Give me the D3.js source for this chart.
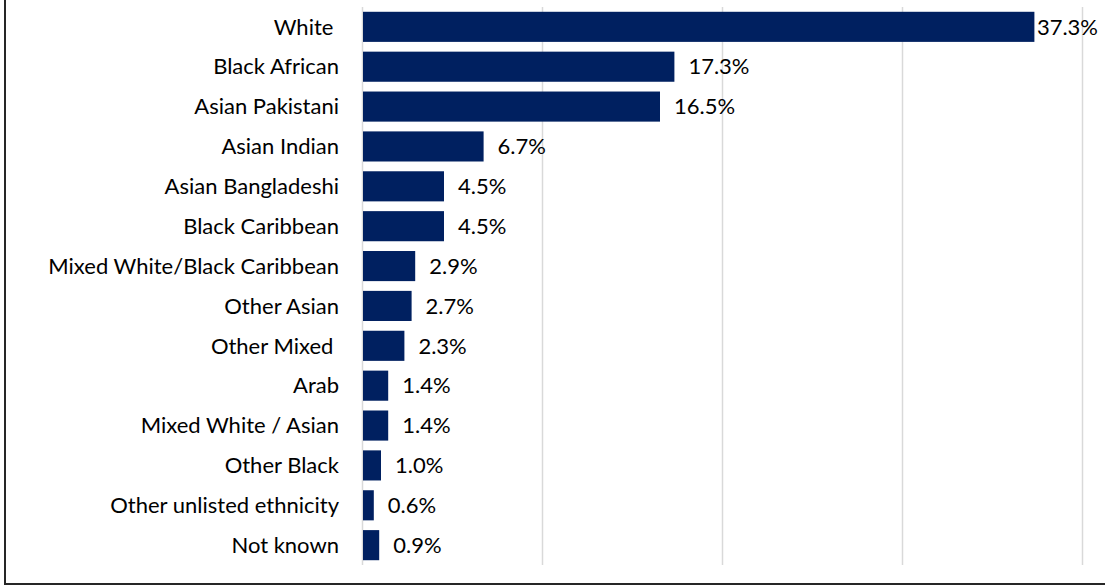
<!DOCTYPE html>
<html>
<head>
<meta charset="utf-8">
<script src="https://cdn.jsdelivr.net/npm/d3@7"></script>
<style>
  html, body { margin: 0; padding: 0; background: #fff; }
  svg { display: block; }
  text { font-family: "Lato", "Open Sans", sans-serif; fill: #000; }
</style>
</head>
<body>
<svg id="chart" width="1105" height="585"></svg>
<script>
// Ethnicity breakdown (percent)
const categories = [
  "White ", "Black African", "Asian Pakistani", "Asian Indian", "Asian Bangladeshi",
  "Black Caribbean", "Mixed White/Black Caribbean", "Other Asian", "Other Mixed ",
  "Arab", "Mixed White / Asian", "Other Black", "Other unlisted ethnicity", "Not known"
];
const values = [37.3, 17.3, 16.5, 6.7, 4.5, 4.5, 2.9, 2.7, 2.3, 1.4, 1.4, 1.0, 0.6, 0.9];
const gridTicks = [0, 10, 20, 30, 40];

const W = 1105, H = 585;
const margin = { top: 7, right: 22, bottom: 20, left: 363 };
const fontSize = "22px";
const svg = d3.select("#chart");

// outer frame
svg.append("rect")
  .attr("x", 5).attr("y", -5)
  .attr("width", W + 10).attr("height", 589)
  .attr("fill", "none").attr("stroke", "#262626").attr("stroke-width", 2);

const x = d3.scaleLinear().domain([0, 40]).range([margin.left, 1083]);
const y = d3.scaleBand().domain(categories)
  .range([margin.top, 565]).paddingInner(0.245).paddingOuter(0.12);

// vertical gridlines
svg.append("g").selectAll("line").data(gridTicks).join("line")
  .attr("x1", d => x(d) - 0.5).attr("x2", d => x(d) - 0.5)
  .attr("y1", margin.top).attr("y2", 565)
  .attr("stroke", "#d9d9d9").attr("stroke-width", 1.5);

// bars
svg.append("g").selectAll("rect").data(values).join("rect")
  .attr("x", x(0))
  .attr("y", (d, i) => y(categories[i]))
  .attr("width", d => x(d) - x(0))
  .attr("height", y.bandwidth())
  .attr("fill", "#002060");

// category labels
svg.append("g").selectAll("text").data(categories).join("text")
  .attr("x", 339)
  .attr("y", d => y(d) + y.bandwidth() / 2)
  .attr("dy", "0.35em")
  .attr("text-anchor", "end")
  .style("white-space", "pre")
  .style("font-size", fontSize)
  .text(d => d);

// value labels, kept inside the frame
const vl = svg.append("g").selectAll("text").data(values).join("text")
  .attr("y", (d, i) => y(categories[i]) + y.bandwidth() / 2)
  .attr("dy", "0.35em")
  .style("font-size", fontSize)
  .text(d => d.toFixed(1) + "%");
vl.attr("x", function(d) {
  const w = this.getComputedTextLength();
  return Math.min(x(d) + 14, W - 7 - w);
});
</script>
</body>
</html>
